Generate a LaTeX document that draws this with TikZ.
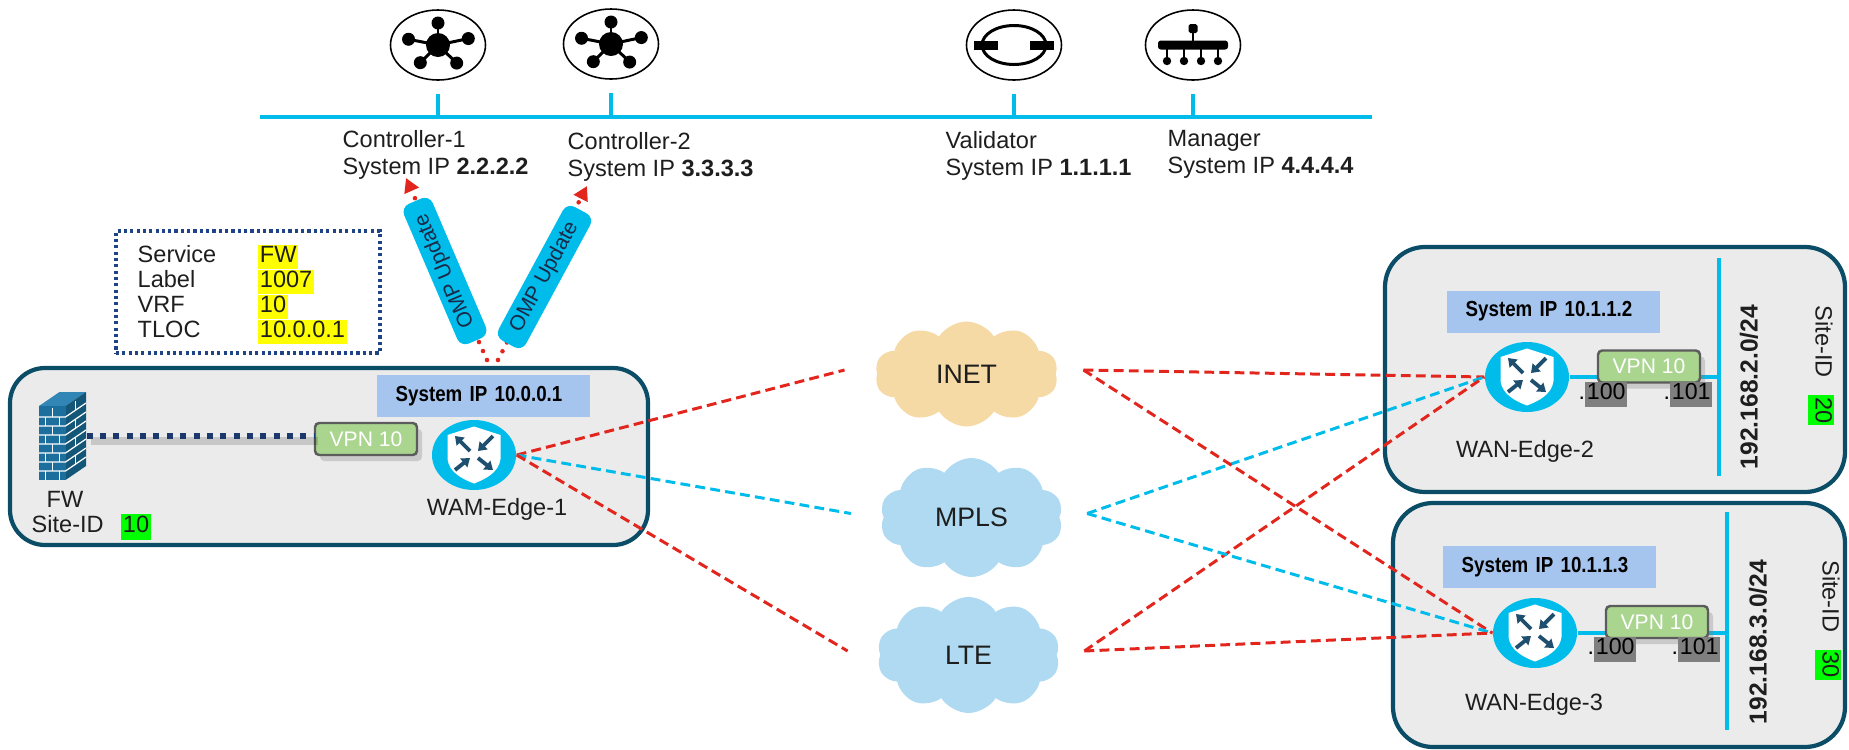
\documentclass[tikz,border=0pt]{standalone}
\usepackage{fontspec}
\setmainfont{Liberation Sans}
\newfontfamily\ipfont[FakeStretch=0.86]{Liberation Sans}
\usetikzlibrary{arrows.meta,positioning,shapes.geometric,shapes.symbols,shadows}
\definecolor{ciscocyan}{HTML}{00BCEB}
\definecolor{wanred}{HTML}{E2261D}
\definecolor{siteteal}{HTML}{0B4D66}
\definecolor{sitegray}{HTML}{EBEBEB}
\definecolor{ipblue}{HTML}{A6C5EE}
\definecolor{vpngreen}{HTML}{A9D58F}
\definecolor{vpnedge}{HTML}{5C5C5C}
\definecolor{fwnavy}{HTML}{1B3A6B}
\definecolor{infonavy}{HTML}{1E4486}
\definecolor{inetsand}{HTML}{F6DAA6}
\definecolor{mplssky}{HTML}{AFDAF1}
\definecolor{wallblue}{HTML}{1C6E9D}
\definecolor{walldark}{HTML}{145677}
\definecolor{walltop}{HTML}{3286B6}
\definecolor{iconteal}{HTML}{1F4F6F}
\definecolor{ompnavy}{HTML}{1A2A48}
\definecolor{inkgray}{HTML}{1E1E1E}
\definecolor{hlyellow}{HTML}{FFFF00}
\definecolor{hlgreen}{HTML}{00FF00}
\definecolor{hlgray}{HTML}{7F7F7F}
\newcommand{\hlbox}[2]{{\setlength{\fboxsep}{0pt}\colorbox{#1}{\kern0.5pt\strut#2\kern0.5pt}}}
\tikzset{
  >={Triangle[length=1.4mm,width=1.5mm]},
  % text
  lbl/.style={inner sep=0pt,text=inkgray,font=\fontsize{6.7}{7.5}\selectfont},
  info/.style={inner sep=0pt,text=inkgray,font=\fontsize{6.7}{6.9}\selectfont},
  addr/.style={inner sep=0pt,text=black,font=\fontsize{6.6}{7.1}\selectfont},
  netlbl/.style={inner sep=0pt,text=inkgray,font=\fontsize{7}{8}\selectfont\bfseries},
  % boxes
  site/.style={draw=siteteal,fill=sitegray,line width=1.2pt,rounded corners=3.5mm,inner sep=0pt},
  sysip/.style={fill=ipblue,inner ysep=0pt,inner xsep=1.9mm,minimum height=4.2mm,text width=17.5mm,
                align=left,font=\ipfont\fontsize{6.2}{6.6}\selectfont\bfseries},
  vpn/.style={draw=vpnedge,fill=vpngreen,line width=0.7pt,rounded corners=1.2pt,minimum width=10.2mm,
              minimum height=3.2mm,inner sep=0pt,text=white,font=\fontsize{6}{7}\selectfont,
              drop shadow={shadow xshift=0.5mm,shadow yshift=-0.6mm,opacity=0.3}},
  infobox/.style={draw=infonavy,line width=0.9pt,dash pattern=on 0.9pt off 0.9pt,
                  minimum width=26.4mm,minimum height=12.2mm},
  omp/.style={fill=ciscocyan,rounded corners=2.5pt,minimum width=15.2mm,minimum height=3.1mm,
              inner sep=0pt,text=ompnavy,font=\fontsize{6}{6.5}\selectfont},
  wan/.style={cloud,cloud puffs=10,cloud puff arc=115,aspect=1.7,minimum width=18.3mm,
              minimum height=10.5mm,inner sep=0pt,text=inkgray,font=\fontsize{7.6}{8}\selectfont},
  % lines
  bus/.style={draw=ciscocyan,line width=1.15pt},
  lan/.style={draw=ciscocyan,line width=1.4pt},
  wanr/.style={draw=wanred,line width=0.85pt,dash pattern=on 2.8pt off 1.5pt},
  wanb/.style={draw=ciscocyan,line width=0.85pt,dash pattern=on 2.8pt off 1.5pt},
  ompup/.style={->,draw=wanred,line width=1.3pt,line cap=round,dash pattern=on 0pt off 2.8pt},
  fwlink/.style={draw=fwnavy,line width=1.7pt,dash pattern=on 1.7pt off 2.1pt,
                 preaction={draw=black,opacity=0.15,line width=2.2pt,transform canvas={xshift=0.4mm,yshift=-0.5mm}}},
  xarr/.style={->,>={Triangle[length=0.8mm,width=1.1mm]},draw=iconteal,line width=1.1pt},
  % icons
  srv/.style={ellipse,draw=black,line width=0.45pt,fill=white,minimum width=9.5mm,minimum height=7mm,inner sep=0pt},
  ctrl/.style={srv,path picture={
    \begin{scope}[shift={(path picture bounding box.center)}]
      \foreach \a/\r in {90/0.22,12/0.31,-44/0.26,-135/0.25,169/0.30}{
        \draw[black,line width=0.85pt] (0,0) -- (\a:\r); \fill[black] (\a:\r) circle (0.065);}
      \fill[black] (0,0) circle (0.12);
    \end{scope}}},
  valid/.style={srv,path picture={
    \begin{scope}[shift={(path picture bounding box.center)}]
      \draw[black,line width=0.85pt] (0,0) ellipse (0.32 and 0.195);
      \fill[black] (-0.40,-0.05) rectangle (-0.16,0.045); \fill[black] (0.16,-0.05) rectangle (0.40,0.045);
    \end{scope}}},
  mgr/.style={srv,path picture={
    \begin{scope}[shift={(path picture bounding box.center)}]
      \fill[black,rounded corners=0.5pt] (-0.045,0.12) rectangle (0.045,0.21);
      \draw[black,line width=0.8pt] (0,0.12) -- (0,0.03);
      \fill[black,rounded corners=0.8pt] (-0.35,-0.045) rectangle (0.35,0.045);
      \foreach \x in {-0.26,-0.09,0.08,0.25}{
        \draw[black,line width=0.7pt] (\x,0) -- (\x,-0.16); \fill[black] (\x,-0.16) circle (0.042);}
    \end{scope}}},
  rtr/.style={ellipse,fill=ciscocyan,minimum width=8.4mm,minimum height=7mm,inner sep=0pt,path picture={
    \begin{scope}[shift={(path picture bounding box.center)}]
      \fill[white] (-0.265,0.2) -- (0,0.285) -- (0.265,0.2) -- (0.265,-0.04)
        .. controls (0.25,-0.17) and (0.12,-0.24) .. (0,-0.285)
        .. controls (-0.12,-0.24) and (-0.25,-0.17) .. (-0.265,-0.04) -- cycle;
      \draw[xarr] (-0.04,0.04) -- (-0.19,0.19);
      \draw[xarr] (0.19,0.19) -- (0.04,0.04);
      \draw[xarr] (-0.19,-0.15) -- (-0.04,-0.03);
      \draw[xarr] (0.04,-0.03) -- (0.19,-0.15);
    \end{scope}}},
  wall/.style={fill=sitegray,minimum width=4.7mm,minimum height=9mm,inner sep=0pt,path picture={
    \begin{scope}[shift={(path picture bounding box.center)}]
      \fill[walltop] (-0.235,0.30) -- (-0.03,0.44) -- (0.235,0.44) -- (0.03,0.30) -- cycle;
      \fill[walldark] (0.03,0.30) -- (0.235,0.44) -- (0.235,-0.30) -- (0.03,-0.44) -- cycle;
      \fill[wallblue] (-0.235,-0.44) rectangle (0.03,0.30);
      \foreach \y in {-0.35,-0.26,...,0.25}
        \draw[white,line width=0.35pt] (-0.235,\y) -- (0.03,\y) -- (0.235,\y+0.14);
      \foreach \y in {-0.35,-0.17,0.01,0.19}
        \draw[white,line width=0.35pt] (-0.10,\y) -- ++(0,0.09) (0.13,\y+0.07) -- ++(0,0.09);
      \foreach \y in {-0.44,-0.26,-0.08,0.10}
        \draw[white,line width=0.35pt] (-0.17,\y) -- ++(0,0.09) (-0.03,\y) -- ++(0,0.09);
    \end{scope}}},
}
\begin{document}
\begin{tikzpicture}
  \useasboundingbox (0,0) rectangle (18.49,-7.5);
  % control plane
  \draw[bus] (2.60,-1.17) -- (13.72,-1.17);
  \node[ctrl] (c1) at (4.38,-0.45) {};   \node[ctrl] (c2) at (6.11,-0.44) {};
  \node[valid] (v1) at (10.14,-0.45) {}; \node[mgr] (m1) at (11.93,-0.45) {};
  \foreach \n in {c1,c2,v1,m1} \draw[bus] ([yshift=-1.3mm]\n.south) -- ++(0,-0.24);
  \node[lbl,align=left,anchor=north west] (c1lbl) at (3.42,-1.30) {Controller-1\\System IP \textbf{2.2.2.2}};
  \node[lbl,align=left,anchor=north west] (c2lbl) at (5.67,-1.32) {Controller-2\\System IP \textbf{3.3.3.3}};
  \node[lbl,align=left,anchor=north west] (v1lbl) at (9.45,-1.31) {Validator\\System IP \textbf{1.1.1.1}};
  \node[lbl,align=left,anchor=north west] (m1lbl) at (11.67,-1.30) {Manager\\System IP \textbf{4.4.4.4}};

  % service route
  \node[infobox] (tloc) at (2.48,-2.92) {};
  \foreach \fld/\val [count=\i] in {Service/FW,Label/1007,VRF/10,TLOC/10.0.0.1}{
    \node[info,anchor=base west] (key\i) at (1.37,-2.37-0.25*\i) {\fld};
    \node[info,anchor=base west] (val\i) at (2.575,-2.37-0.25*\i) {\hlbox{hlyellow}{\val}};
  }

  % site 10
  \node[site,minimum width=63.8mm,minimum height=17.7mm] (site1) at (3.29,-4.565) {};
  \node[sysip,anchor=west] (sip1) at (3.76,-3.96) {System IP 10.0.0.1};
  \node[wall] (fw) at (0.625,-4.36) {};
  \node[vpn] (vpn1) at (3.66,-4.39) {VPN 10};
  \draw[fwlink] (fw.east) -- (fw.east -| vpn1.west);
  \node[rtr] (e1) at (4.74,-4.55) {};
  \node[lbl,anchor=base] (e1lbl) at (4.97,-5.15) {WAM-Edge-1};
  \node[lbl,anchor=base] (fwlbl) at (0.65,-5.07) {FW};
  \node[lbl,anchor=base west] (site1id) at (0.31,-5.32) {Site-ID\hspace{5pt}\hlbox{hlgreen}{10}};

  % omp updates
  \coordinate (omp1a) at (4.87,-3.60); \coordinate (omp1b) at (4.06,-1.78);
  \coordinate (omp2a) at (4.98,-3.60); \coordinate (omp2b) at (5.87,-1.86);
  \draw[ompup] (omp1a) -- (omp1b);  \draw[ompup] (omp2a) -- (omp2b);
  \node[omp,rotate=113.2] (ompl) at (4.45,-2.71) {OMP Update};
  \node[omp,rotate=61.6] (ompr) at (5.445,-2.77) {OMP Update};

  % site 20
  \node[site,minimum width=46mm,minimum height=24.5mm,rounded corners=4mm] (site2) at (16.15,-3.695) {};
  \node[sysip,anchor=west] (sip2) at (14.46,-3.115) {System IP 10.1.1.2};
  \coordinate (lan2t) at (17.19,-2.58); \coordinate (lan2b) at (17.19,-4.76);
  \draw[lan] (lan2t) -- (lan2b);
  \node[rtr] (e2) at (15.27,-3.77) {};
  \draw[lan] (e2.east) -- (e2.east -| lan2t);
  \node[vpn] (vpn2) at (16.49,-3.665) {VPN 10};
  \node[addr,anchor=west] (a2l) at (15.78,-3.945) {.\hlbox{hlgray}{100}};
  \node[addr,anchor=west] (a2r) at (16.63,-3.945) {.\hlbox{hlgray}{101}};
  \node[netlbl,rotate=90] (net2) at (17.49,-3.87) {192.168.2.0/24};
  \node[lbl,rotate=-90] (site2id) at (18.21,-3.655) {Site-ID\hspace{5pt}\hlbox{hlgreen}{20}};
  \node[lbl,anchor=base] (e2lbl) at (15.25,-4.57) {WAN-Edge-2};

  % site 30
  \node[site,minimum width=45.2mm,minimum height=24.4mm,rounded corners=4mm] (site3) at (16.19,-6.25) {};
  \node[sysip,anchor=west] (sip3) at (14.42,-5.67) {System IP 10.1.1.3};
  \coordinate (lan3t) at (17.27,-5.12); \coordinate (lan3b) at (17.27,-7.30);
  \draw[lan] (lan3t) -- (lan3b);
  \node[rtr] (e3) at (15.35,-6.33) {};
  \draw[lan] (e3.east) -- (e3.east -| lan3t);
  \node[vpn] (vpn3) at (16.57,-6.22) {VPN 10};
  \node[addr,anchor=west] (a3l) at (15.87,-6.495) {.\hlbox{hlgray}{100}};
  \node[addr,anchor=west] (a3r) at (16.71,-6.495) {.\hlbox{hlgray}{101}};
  \node[netlbl,rotate=90] (net3) at (17.58,-6.42) {192.168.3.0/24};
  \node[lbl,rotate=-90] (site3id) at (18.28,-6.20) {Site-ID\hspace{5pt}\hlbox{hlgreen}{30}};
  \node[lbl,anchor=base] (e3lbl) at (15.34,-7.10) {WAN-Edge-3};

  % transports
  \node[wan,fill=inetsand] (inet) at (9.665,-3.74) {INET};
  \node[wan,fill=mplssky,minimum height=11.9mm] (mpls) at (9.715,-5.175) {MPLS};
  \node[wan,fill=mplssky,minimum height=11.6mm] (lte) at (9.685,-6.55) {LTE};
  \draw[wanr] (e1.east) -- ([xshift=-3.2mm,yshift=0.4mm]inet.west);
  \draw[wanb] (e1.east) -- ([xshift=-3.2mm,yshift=0.4mm]mpls.west);
  \draw[wanr] (e1.east) -- ([xshift=-3.2mm,yshift=0.4mm]lte.west);
  \foreach \e in {e2,e3}{
    \draw[wanr] ([xshift=2.7mm,yshift=0.4mm]inet.east) -- (\e.west);
    \draw[wanb] ([xshift=2.7mm,yshift=0.4mm]mpls.east) -- (\e.west);
    \draw[wanr] ([xshift=2.7mm,yshift=0.4mm]lte.east) -- (\e.west);
  }
\end{tikzpicture}
\end{document}
